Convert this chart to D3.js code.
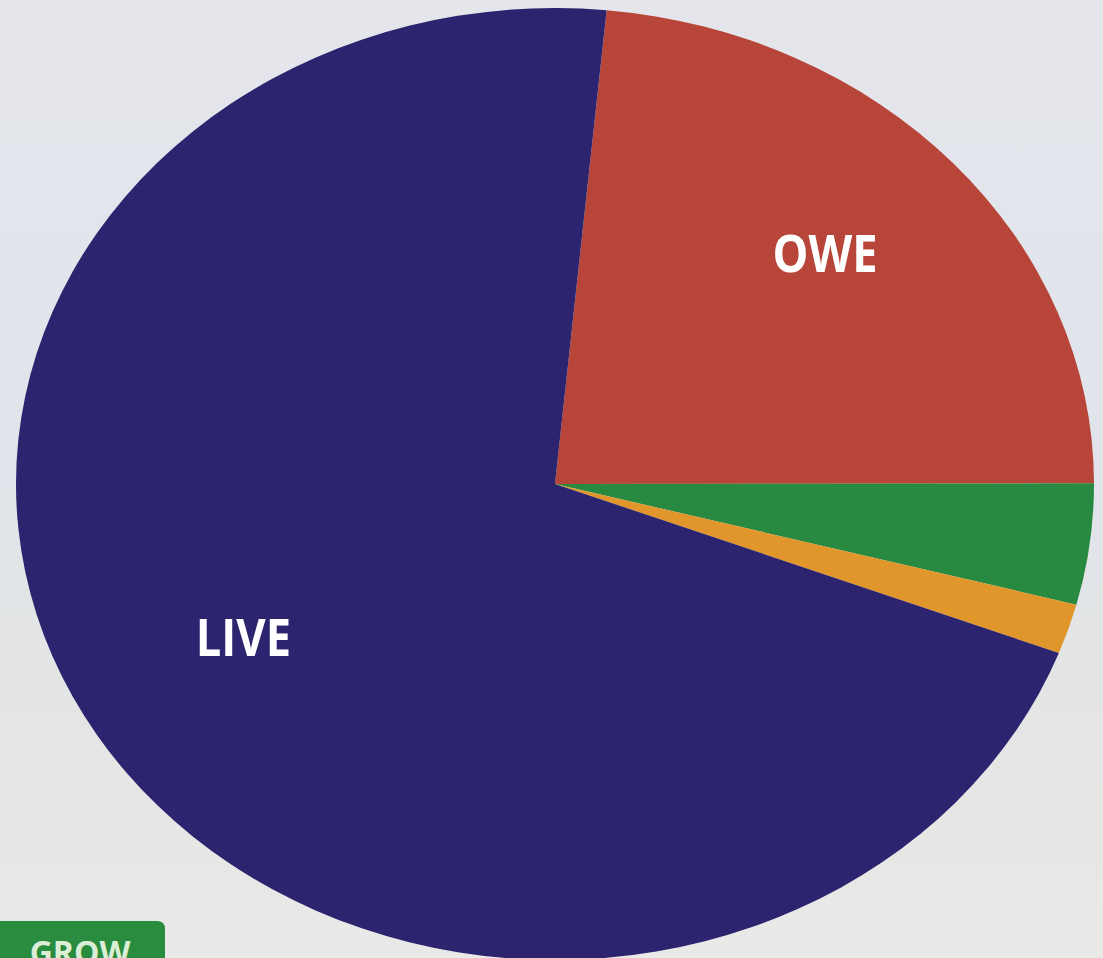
<!DOCTYPE html>
<html>
<head>
<meta charset="utf-8">
<script src="https://cdn.jsdelivr.net/npm/d3@7"></script>
<style>
html,body{margin:0;padding:0;overflow:hidden;}
svg{display:block;}
</style>
</head>
<body>
<svg id="chart" width="1103" height="958"></svg>
<script>
const categories = ["OWE", "GROW", "GIVE", "LIVE"];
const values = [23.45, 4.1, 1.7, 70.75];
const colors = ["#b84539", "#288a40", "#e0962b", "#2c246e"];
const labels = ["OWE", "", "", "LIVE"];

const W = 1103, H = 958;
const cx = 555, cy = 484, rx = 539, ry = 476;
const startDeg = 5.5;

const svg = d3.select("#chart");
const defs = svg.append("defs");
const bg = defs.append("linearGradient").attr("id","bg").attr("x1",0).attr("y1",0).attr("x2",0).attr("y2",1);
bg.append("stop").attr("offset","0%").attr("stop-color","#e5e6ec");
bg.append("stop").attr("offset","45%").attr("stop-color","#e0e4eb");
bg.append("stop").attr("offset","75%").attr("stop-color","#e4e5e4");
bg.append("stop").attr("offset","100%").attr("stop-color","#e9e9e7");
svg.append("rect").attr("width",W).attr("height",H).attr("fill","url(#bg)");

const pie = d3.pie().sort(null).value(d => d)
  .startAngle(startDeg*Math.PI/180).endAngle(startDeg*Math.PI/180 + 2*Math.PI);
const arcs = pie(values);
const arc = d3.arc().innerRadius(0).outerRadius(ry);

const g = svg.append("g").attr("transform", `translate(${cx},${cy}) scale(${rx/ry},1)`);
g.selectAll("path").data(arcs).join("path")
  .attr("d", arc)
  .attr("fill", (d,i) => colors[i]);

// label placement: radius factor and angular nudge (degrees) from slice centroid
const labelR = [0.70, 0, 0, 0.66];
const labelNudge = [-2, 0, 0, 3];
const lg = svg.append("g").attr("transform", `translate(${cx},${cy})`);
arcs.forEach((d,i) => {
  if (!labels[i]) return;
  const a = (d.startAngle + d.endAngle)/2 + labelNudge[i]*Math.PI/180;
  const x = Math.sin(a) * rx * labelR[i];
  const y = -Math.cos(a) * ry * labelR[i];
  lg.append("text")
    .attr("transform", `translate(${x},${y}) scale(0.87,1)`)
    .attr("text-anchor","middle")
    .attr("dominant-baseline","central")
    .attr("font-family","'Open Sans', sans-serif")
    .attr("font-weight","700")
    .attr("font-size", 52)
    .attr("fill","#ffffff")
    .text(labels[i]);
});

// GROW button at bottom-left (cut off by the frame, as in the original)
const btn = svg.append("g");
btn.append("path")
  .attr("d", "M0,921 H157 Q165,921 165,929 V970 H0 Z")
  .attr("fill", "#2a8c3f");
btn.append("text")
  .attr("x", 80).attr("y", 964)
  .attr("text-anchor","middle")
  .attr("font-family","'Open Sans', sans-serif")
  .attr("font-weight","700")
  .attr("font-size", 32)
  .attr("fill","#dcefd6")
  .text(categories[1]);
</script>
</body>
</html>
